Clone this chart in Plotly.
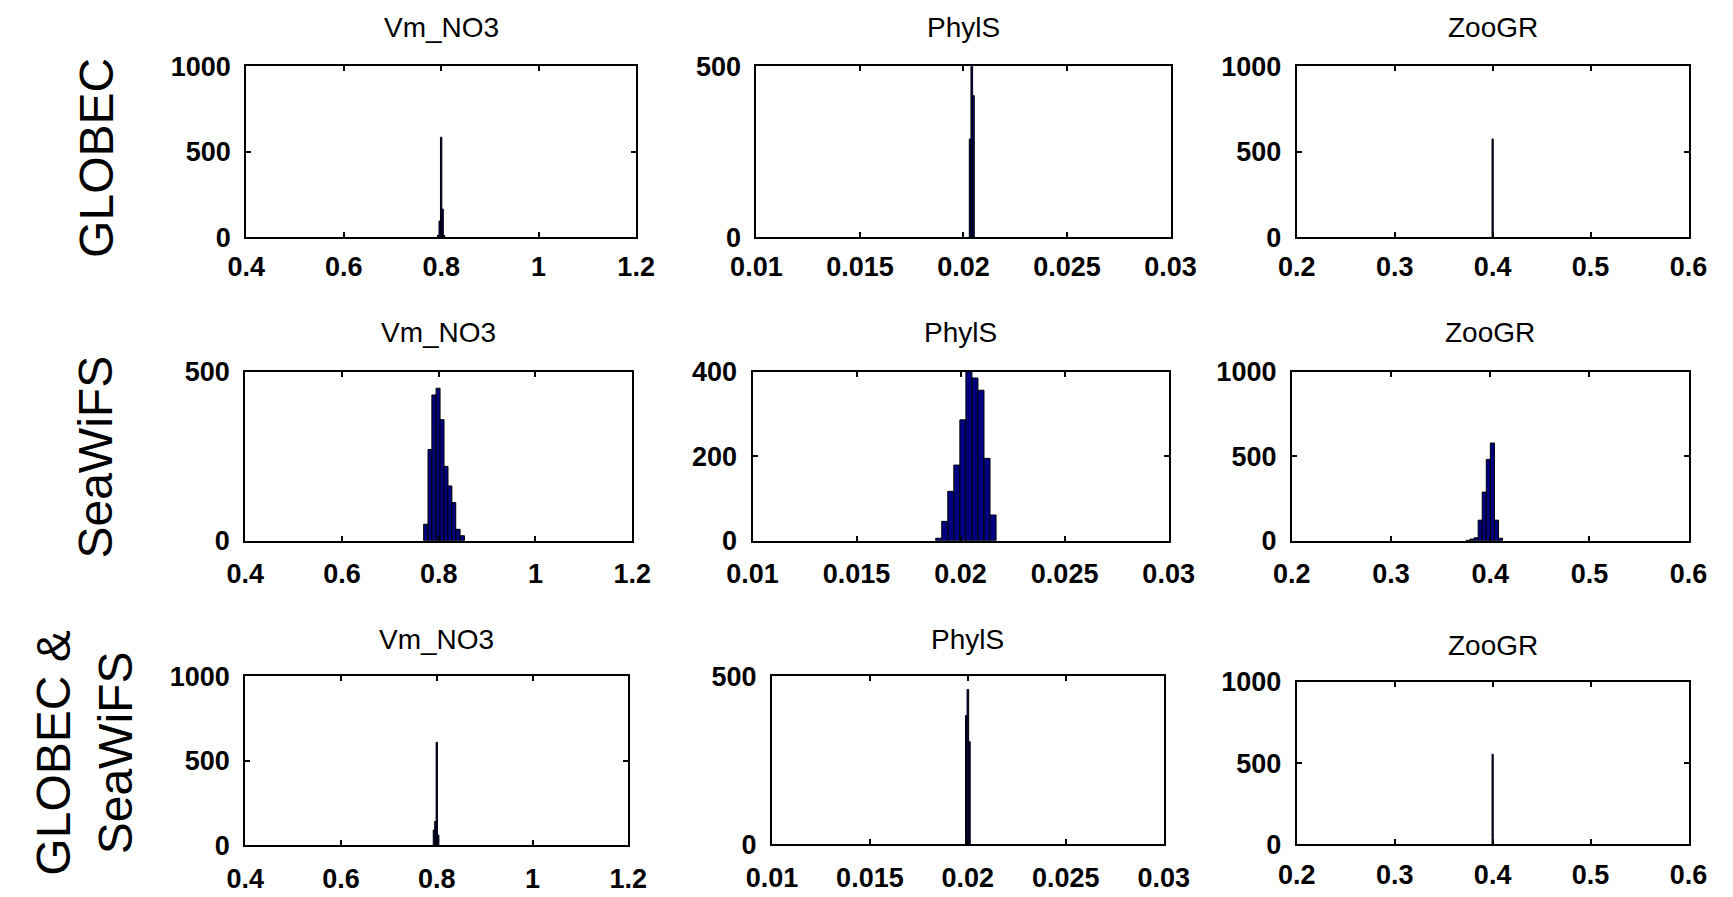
import plotly.graph_objects as go

W, H = 1733, 897

# ---------------- data (histogram bin centers / counts) ----------------
# Row 1: GLOBEC
g_vm_x = [0.794, 0.797, 0.800, 0.803, 0.806]
g_vm_y = [12, 95, 585, 165, 10]
g_ph_x = [0.02032, 0.02040, 0.02048]
g_ph_y = [287, 520, 414]
g_zo_x = [0.400]
g_zo_y = [575]

# Row 2: SeaWiFS
s_vm_x = [0.773, 0.782, 0.790, 0.7986, 0.8068, 0.815, 0.823, 0.831, 0.840, 0.849]
s_vm_y = [49, 270, 431, 451, 358, 220, 162, 113, 34, 15]
s_ph_x = [0.01895, 0.01924, 0.01953, 0.01982, 0.02011, 0.02040, 0.02069, 0.02098, 0.02127, 0.02156]
s_ph_y = [6, 46, 117, 179, 286, 400, 385, 356, 195, 61]
s_zo_x = [0.3776, 0.3817, 0.3858, 0.3899, 0.3940, 0.3981, 0.4022, 0.4063, 0.4104]
s_zo_y = [3, 10, 18, 122, 288, 481, 578, 122, 15]

# Row 3: GLOBEC & SeaWiFS
b_vm_x = [0.794, 0.797, 0.800, 0.803]
b_vm_y = [90, 141, 609, 60]
b_ph_x = [0.01992, 0.02000, 0.02008]
b_ph_y = [383, 460, 305]
b_zo_x = [0.400]
b_zo_y = [555]

bin_widths = {"vm1": 0.0028, "ph1": 0.00008, "zo1": 0.0012,
              "vm2": 0.0083, "ph2": 0.00029, "zo2": 0.0041,
              "vm3": 0.0028, "ph3": 0.00008, "zo3": 0.0012}

# ticks
vm_ticks = [0.4, 0.6, 0.8, 1.0, 1.2]
vm_labels = ["0.4", "0.6", "0.8", "1", "1.2"]
ph_ticks = [0.01, 0.015, 0.02, 0.025, 0.03]
ph_labels = ["0.01", "0.015", "0.02", "0.025", "0.03"]
zo_ticks = [0.2, 0.3, 0.4, 0.5, 0.6]
zo_labels = ["0.2", "0.3", "0.4", "0.5", "0.6"]

titles = ["Vm_NO3", "PhylS", "ZooGR"]
row_labels = ["GLOBEC", "SeaWiFS", "GLOBEC &<br>SeaWiFS"]

# ---------------- layout ----------------
# pixel boxes: left, right, top, bottom, title offset, x-label standoff
boxes = [
    (227, 629, 53, 230, 40, 4), (753, 1180, 53, 230, 40, 4), (1310, 1714, 53, 230, 40, 4),
    (226, 625, 369, 544, 41, 8), (749, 1178, 369, 544, 41, 8), (1305, 1714, 369, 544, 41, 8),
    (226, 621, 684, 859, 38, 8), (769, 1173, 684, 858, 38, 8), (1310, 1714, 690, 858, 38, 5),
]
panels = [
    (g_vm_x, g_vm_y, "vm1", vm_ticks, vm_labels, [0.4, 1.2], [0, 1000], [0, 500, 1000]),
    (g_ph_x, g_ph_y, "ph1", ph_ticks, ph_labels, [0.01, 0.03], [0, 500], [0, 500]),
    (g_zo_x, g_zo_y, "zo1", zo_ticks, zo_labels, [0.2, 0.6], [0, 1000], [0, 500, 1000]),
    (s_vm_x, s_vm_y, "vm2", vm_ticks, vm_labels, [0.4, 1.2], [0, 500], [0, 500]),
    (s_ph_x, s_ph_y, "ph2", ph_ticks, ph_labels, [0.01, 0.03], [0, 400], [0, 200, 400]),
    (s_zo_x, s_zo_y, "zo2", zo_ticks, zo_labels, [0.2, 0.6], [0, 1000], [0, 500, 1000]),
    (b_vm_x, b_vm_y, "vm3", vm_ticks, vm_labels, [0.4, 1.2], [0, 1000], [0, 500, 1000]),
    (b_ph_x, b_ph_y, "ph3", ph_ticks, ph_labels, [0.01, 0.03], [0, 500], [0, 500]),
    (b_zo_x, b_zo_y, "zo3", zo_ticks, zo_labels, [0.2, 0.6], [0, 1000], [0, 500, 1000]),
]

SANS = "Liberation Sans, Arial, sans-serif"
tick_font = dict(family=SANS, size=27, color="black", weight="bold")
title_font = dict(family=SANS, size=28, color="black")
row_font = dict(family=SANS, size=48, color="black")

fig = go.Figure()
layout = dict(width=W, height=H, margin=dict(l=0, r=0, t=0, b=0),
              paper_bgcolor="white", plot_bgcolor="white", showlegend=False,
              barmode="overlay")
annotations = []

for i, (box, p) in enumerate(zip(boxes, panels), start=1):
    l, r, t, b, toff, xstand = box
    xs, ys, wk, xt, xl, xr, yr, yt = p
    fig.add_trace(go.Bar(x=xs, y=ys, width=bin_widths[wk],
                         marker=dict(color="#000080", line=dict(color="black", width=1)),
                         xaxis=f"x{i}", yaxis=f"y{i}"))
    common = dict(showline=True, mirror="ticks", linecolor="black", linewidth=2,
                  ticks="inside", ticklen=5, tickwidth=2, tickcolor="black",
                  showgrid=False, zeroline=False, tickfont=tick_font)
    layout[f"xaxis{i if i > 1 else ''}"] = dict(
        domain=[l / W, r / W], range=xr, tickvals=xt, ticktext=xl,
        anchor=f"y{i}", ticklabelstandoff=xstand, **common)
    layout[f"yaxis{i if i > 1 else ''}"] = dict(
        domain=[1 - b / H, 1 - t / H], range=yr, tickvals=yt,
        ticktext=[str(v) for v in yt], anchor=f"x{i}", ticklabelstandoff=8, **common)
    annotations.append(dict(text=titles[(i - 1) % 3], xref="paper", yref="paper",
                            x=(l + r) / 2 / W, y=1 - (t - toff) / H,
                            xanchor="center", yanchor="middle", showarrow=False,
                            font=title_font))

row_pos = [(72, 148), (72, 457), (60, 764)]
for (cx, cy), txt in zip(row_pos, row_labels):
    annotations.append(dict(text=txt, xref="paper", yref="paper",
                            x=cx / W, y=1 - cy / H, xanchor="center", yanchor="middle",
                            textangle=-90, showarrow=False, font=row_font))

layout["annotations"] = annotations
fig.update_layout(**layout)
fig.write_html("out.html")
